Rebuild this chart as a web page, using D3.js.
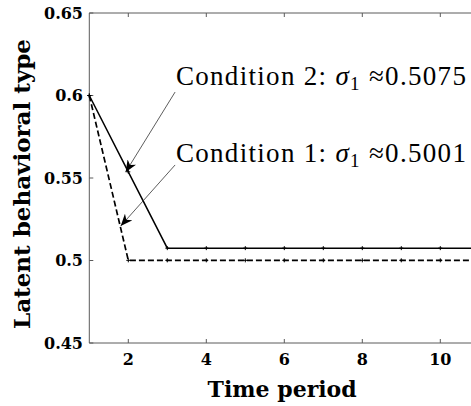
<!DOCTYPE html>
<html>
<head>
<meta charset="utf-8">
<script src="https://cdn.jsdelivr.net/npm/d3@7"></script>
<style>
  body { margin: 0; background: #fff; }
  svg { display: block; }
  .note { font-family: "Liberation Serif", "Times New Roman", serif; }
</style>
</head>
<body>
<svg id="chart" width="471" height="406"></svg>
<script>
// data
var periods = [1, 2, 3, 4, 5, 6, 7, 8, 9, 10, 11];
var condition1 = [0.6, 0.5001, 0.5001, 0.5001, 0.5001, 0.5001, 0.5001, 0.5001, 0.5001, 0.5001, 0.5001];
var condition2 = [0.6, 0.55375, 0.5075, 0.5075, 0.5075, 0.5075, 0.5075, 0.5075, 0.5075, 0.5075, 0.5075];
var xTicks = [2, 4, 6, 8, 10];
var yTicks = [0.45, 0.5, 0.55, 0.6, 0.65];
var labels = [
    { name: "Condition 2", value: "0.5075", text: [3.22, 0.6064], tail: [3.2, 0.6021], tip: [1.93, 0.5535] },
    { name: "Condition 1", value: "0.5001", text: [3.22, 0.5597], tail: [3.2, 0.5579], tip: [1.805, 0.5209] }
];

var svg = d3.select("#chart");
var mLeft = 89.3, mTop = 13, mBottom = 343;

var x = d3.scaleLinear().domain([1, 11]).range([mLeft, mLeft + 390]);
var y = d3.scaleLinear().domain([0.45, 0.65]).range([mBottom, mTop]);

var axisColor = "#5a5a5a";

// frame (right side is cut off by the picture)
svg.append("path")
    .attr("d", "M" + 471 + "," + mTop + "H" + mLeft + "V" + mBottom + "H" + 471)
    .attr("fill", "none")
    .attr("stroke", axisColor)
    .attr("stroke-width", 1);

var tickLen = 4;
svg.append("g").selectAll("line").data(xTicks).enter().append("line")
    .attr("x1", d => x(d)).attr("x2", d => x(d))
    .attr("y1", mBottom).attr("y2", mBottom - tickLen)
    .attr("stroke", axisColor);
svg.append("g").selectAll("line").data(xTicks).enter().append("line")
    .attr("x1", d => x(d)).attr("x2", d => x(d))
    .attr("y1", mTop).attr("y2", mTop + tickLen)
    .attr("stroke", axisColor);
svg.append("g").selectAll("line").data(yTicks).enter().append("line")
    .attr("x1", mLeft).attr("x2", mLeft + tickLen)
    .attr("y1", d => y(d)).attr("y2", d => y(d))
    .attr("stroke", axisColor);

var tickFont = "DejaVu Serif";
svg.append("g").selectAll("text").data(xTicks).enter().append("text")
    .attr("x", d => x(d)).attr("y", 365)
    .attr("text-anchor", "middle")
    .attr("font-family", tickFont).attr("font-weight", "bold").attr("font-size", 16)
    .text(d => d);
svg.append("g").selectAll("text").data(yTicks).enter().append("text")
    .attr("x", 83).attr("y", d => y(d) + 5.5)
    .attr("text-anchor", "end")
    .attr("font-family", tickFont).attr("font-weight", "bold").attr("font-size", 16)
    .text(d => d3.format("")(d));

svg.append("text")
    .attr("x", (mLeft + 471) / 2 + 2).attr("y", 397)
    .attr("text-anchor", "middle")
    .attr("font-family", tickFont).attr("font-weight", "bold").attr("font-size", 22)
    .text("Time period");
svg.append("text")
    .attr("transform", "translate(30," + ((mTop + mBottom) / 2 + 6) + ") rotate(-90)")
    .attr("text-anchor", "middle")
    .attr("font-family", tickFont).attr("font-weight", "bold").attr("font-size", 23)
    .text("Latent behavioral type");

// lines
var line = d3.line().x((d, i) => x(periods[i])).y(d => y(d));
var plot = svg.append("g");

plot.append("path").datum(condition2)
    .attr("d", line).attr("fill", "none")
    .attr("stroke", "#000").attr("stroke-width", 1.5);
plot.append("path").datum(condition1)
    .attr("d", line).attr("fill", "none")
    .attr("stroke", "#000").attr("stroke-width", 1.7)
    .attr("stroke-dasharray", "6,3");

[condition1, condition2].forEach(series => {
    plot.append("g").selectAll("path").data(series).enter().append("path")
        .attr("d", (d, i) => {
            var px = x(periods[i]), py = y(d);
            return "M" + px + "," + (py - 2) + "V" + (py + 2) + "M" + (px - 2) + "," + py + "H" + (px + 2);
        })
        .attr("stroke", "#000").attr("stroke-width", 1);
});

// annotations
svg.append("defs").append("marker")
    .attr("id", "head")
    .attr("viewBox", "0 0 12 10")
    .attr("refX", 12).attr("refY", 5)
    .attr("markerWidth", 12).attr("markerHeight", 10)
    .attr("markerUnits", "userSpaceOnUse")
    .attr("orient", "auto")
    .append("path")
    .attr("d", "M0,0 L12,5 L0,10 L3.5,5 Z")
    .attr("fill", "#000");

var notes = svg.append("g");
labels.forEach(lab => {
    notes.append("line")
        .attr("x1", x(lab.tail[0])).attr("y1", y(lab.tail[1]))
        .attr("x2", x(lab.tip[0])).attr("y2", y(lab.tip[1]))
        .attr("stroke", "#333").attr("stroke-width", 0.8)
        .attr("marker-end", "url(#head)");

    var t = notes.append("text")
        .attr("class", "note")
        .attr("x", x(lab.text[0])).attr("y", y(lab.text[1]))
        .attr("font-size", 27)
        .attr("textLength", 290)
        .attr("lengthAdjust", "spacing")
        .attr("fill", "#000");
    t.append("tspan").text(lab.name + ":  ");
    t.append("tspan").attr("font-style", "italic").text("σ");
    t.append("tspan").attr("font-size", 19).attr("dy", 5).text("1");
    t.append("tspan").attr("dy", -5).text(" ≈" + lab.value);
});
</script>
</body>
</html>
